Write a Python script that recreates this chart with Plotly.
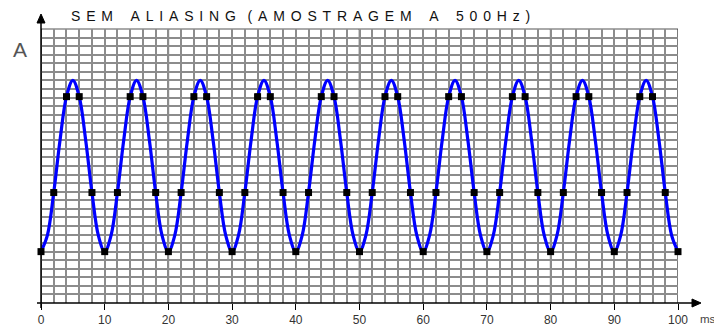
import plotly.graph_objects as go

# ---- data ----
# continuous signal, one value per millisecond (0..100 ms)
t_ms = list(range(0, 101))
signal = [
    -1.0, -0.81, -0.31, 0.31, 0.81, 1.0, 0.81, 0.31, -0.31, -0.81,
    -1.0, -0.81, -0.31, 0.31, 0.81, 1.0, 0.81, 0.31, -0.31, -0.81,
    -1.0, -0.81, -0.31, 0.31, 0.81, 1.0, 0.81, 0.31, -0.31, -0.81,
    -1.0, -0.81, -0.31, 0.31, 0.81, 1.0, 0.81, 0.31, -0.31, -0.81,
    -1.0, -0.81, -0.31, 0.31, 0.81, 1.0, 0.81, 0.31, -0.31, -0.81,
    -1.0, -0.81, -0.31, 0.31, 0.81, 1.0, 0.81, 0.31, -0.31, -0.81,
    -1.0, -0.81, -0.31, 0.31, 0.81, 1.0, 0.81, 0.31, -0.31, -0.81,
    -1.0, -0.81, -0.31, 0.31, 0.81, 1.0, 0.81, 0.31, -0.31, -0.81,
    -1.0, -0.81, -0.31, 0.31, 0.81, 1.0, 0.81, 0.31, -0.31, -0.81,
    -1.0, -0.81, -0.31, 0.31, 0.81, 1.0, 0.81, 0.31, -0.31, -0.81,
    -1.0,
]
# samples taken every 2 ms (500 Hz)
sample_ms = list(range(0, 101, 2))
samples = [
    -1.0, -0.31, 0.81, 0.81, -0.31,
    -1.0, -0.31, 0.81, 0.81, -0.31,
    -1.0, -0.31, 0.81, 0.81, -0.31,
    -1.0, -0.31, 0.81, 0.81, -0.31,
    -1.0, -0.31, 0.81, 0.81, -0.31,
    -1.0, -0.31, 0.81, 0.81, -0.31,
    -1.0, -0.31, 0.81, 0.81, -0.31,
    -1.0, -0.31, 0.81, 0.81, -0.31,
    -1.0, -0.31, 0.81, 0.81, -0.31,
    -1.0, -0.31, 0.81, 0.81, -0.31,
    -1.0,
]
x_ticks = [0, 10, 20, 30, 40, 50, 60, 70, 80, 90, 100]
x_ticktext = ["0", "10", "20", "30", "40", "50", "60", "70", "80", "90", "100"]

# ---- figure ----
FONT = "Liberation Sans, Arial, sans-serif"
W, H = 714, 327
L, R, T, B = 41, 36, 29, 24
PW, PH = W - L - R, H - T - B


def px(xp):
    return (xp - L) / PW


def py(yp):
    return (H - B - yp) / PH


fig = go.Figure()
fig.add_trace(go.Scatter(
    x=t_ms, y=signal, mode="lines",
    line=dict(color="#0000ff", width=3.2, shape="spline", smoothing=1.0),
    hoverinfo="skip", showlegend=False, cliponaxis=False,
))
fig.add_trace(go.Scatter(
    x=sample_ms, y=samples, mode="markers",
    marker=dict(symbol="square", size=7, color="#000000"),
    showlegend=False, cliponaxis=False,
))

# letter-spaced title
g = "\u2005\u2006"


def spaced(word):
    return g.join(list(word))


title_text = (spaced("SEM") + g * 3 + spaced("ALIASING") + g * 2 + spaced("(AMOSTRAGEM")
              + g * 3 + "A" + g * 3 + spaced("500Hz)"))

annotations = [
    dict(text=title_text, x=px(300), y=py(16.5), xref="paper", yref="paper",
         xanchor="center", yanchor="middle", showarrow=False,
         font=dict(family=FONT, size=14, color="#111111")),
    dict(text="A", x=px(19.5), y=py(50), xref="paper", yref="paper",
         xanchor="center", yanchor="middle", showarrow=False,
         font=dict(family=FONT, size=21, color="#555555")),
    dict(text="ms", x=px(698), y=py(318.5), xref="paper", yref="paper",
         xanchor="left", yanchor="middle", showarrow=False,
         font=dict(family=FONT, size=11.5, color="#444444")),
]

shapes = [
    # top border of grid
    dict(type="line", xref="paper", yref="paper", x0=0, x1=1, y0=1, y1=1,
         line=dict(color="#8c8c8c", width=1.5), layer="between"),
]
# major (10 ms) vertical grid lines drawn over the fine grid
for xv in x_ticks:
    shapes.append(dict(type="line", xref="x", yref="paper", x0=xv, x1=xv, y0=0, y1=1,
                       line=dict(color="#111111" if xv < 100 else "#444444", width=1.4),
                       layer="between"))
shapes += [
    # x axis line with arrow
    dict(type="line", xref="paper", yref="paper", x0=px(37), x1=px(693), y0=0, y1=0,
         line=dict(color="black", width=1.5), layer="above"),
    dict(type="path", xref="paper", yref="paper",
         path=f"M {px(692)},{4/PH} L {px(701)},0 L {px(692)},{-4/PH} Z",
         fillcolor="black", line=dict(color="black", width=1), layer="above"),
    # y axis line with arrow
    dict(type="line", xref="paper", yref="paper", x0=0, x1=0, y0=py(308), y1=py(22),
         line=dict(color="black", width=1.5), layer="above"),
    dict(type="path", xref="paper", yref="paper",
         path=f"M {-4/PW},{py(23)} L 0,{py(14)} L {4/PW},{py(23)} Z",
         fillcolor="black", line=dict(color="black", width=1), layer="above"),
]

fig.update_layout(
    width=W, height=H,
    margin=dict(l=L, r=R, t=T, b=B, pad=0, autoexpand=False),
    paper_bgcolor="white", plot_bgcolor="white",
    showlegend=False,
    annotations=annotations,
    shapes=shapes,
    xaxis=dict(
        range=[0, 100], tickvals=x_ticks, ticktext=x_ticktext,
        showgrid=False,
        minor=dict(dtick=2, tick0=0, showgrid=True, gridcolor="#8c8c8c", gridwidth=1.5),
        ticks="outside", ticklen=6, tickcolor="black", tickwidth=1.3,
        showline=False, zeroline=False, automargin=False,
        tickfont=dict(family=FONT, size=12, color="#333333"),
        fixedrange=True,
    ),
    yaxis=dict(
        range=[-1.6, 1.6], tick0=-1.6, dtick=0.1,
        showgrid=True, gridcolor="#8c8c8c", gridwidth=1.5,
        showticklabels=False, ticks="", zeroline=False, showline=False,
        automargin=False, fixedrange=True,
    ),
)

fig.write_html("out.html")
